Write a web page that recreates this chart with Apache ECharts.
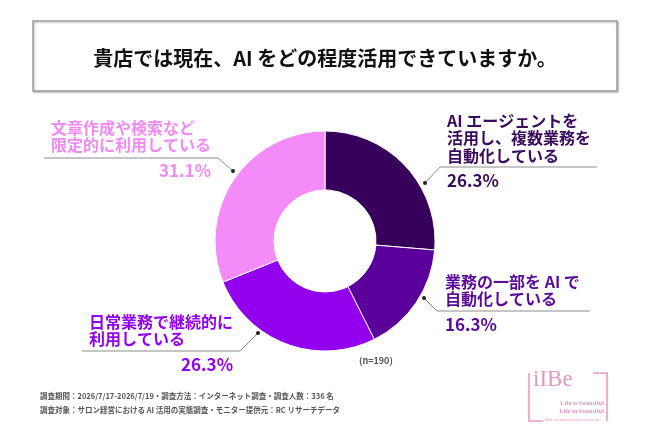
<!DOCTYPE html>
<html>
<head>
<meta charset="utf-8">
<script src="https://cdn.jsdelivr.net/npm/echarts@6/dist/echarts.min.js"></script>
<style>
    html, body {margin: 0; padding: 0; background: #fff;}
    #main {width: 650px; height: 434px;}
</style>
</head>
<body>
<div id="main"></div>
<script>
    // 回答項目と割合 (n=190)
    var categories = [
        'AI エージェントを\n活用し、複数業務を\n自動化している',
        '業務の一部を AI で\n自動化している',
        '日常業務で継続的に\n利用している',
        '文章作成や検索など\n限定的に利用している'
    ];
    var shares = [26.3, 16.3, 26.3, 31.1];
    var sliceColors = ['#37005a', '#5a009b', '#9300ee', '#f38bf9'];
    var textColors = ['#3a0a5e', '#5a0a9a', '#9300ee', '#f08af5'];

    // ラベル位置と引き出し線 (レイアウト用)
    var labelSpots = [
        {x: 447, y: 112, dot: [425, 183], knee: [440, 167], end: [597, 167]},
        {x: 445, y: 273, dot: [424, 298], knee: [437, 311], end: [590, 311]},
        {x: 89, y: 313, dot: [258, 333], knee: [240, 351], end: [82, 351]},
        {x: 51, y: 119, dot: [233, 171], knee: [218, 158], end: [44, 158]}
    ];

    var font = '"Noto Sans CJK JP", "Noto Sans", sans-serif';

    var rich = {};
    textColors.forEach(function (c, i) {
        rich['n' + i] = {color: c, fontSize: 16, fontWeight: 'bold', lineHeight: 17.5, fontFamily: font};
        rich['p' + i] = {color: c, fontSize: 17, fontWeight: 'bold', lineHeight: 32.5, fontFamily: font,
            align: labelSpots[i].x < 325 ? 'right' : 'left'};
    });

    var chart = echarts.init(document.getElementById('main'), null, {renderer: 'canvas'});

    chart.setOption({
        animation: false,
        backgroundColor: '#fff',
        title: {
            text: '貴店では現在、AI をどの程度活用できていますか。',
            left: 'center',
            top: 43,
            textStyle: {fontSize: 20, fontWeight: 'bold', color: '#111', fontFamily: font}
        },
        graphic: [
            {
                type: 'rect', z: -1,
                shape: {x: 33, y: 21, width: 584, height: 70},
                style: {fill: '#fff', stroke: '#9aa0a6', lineWidth: 1.5,
                    shadowColor: 'rgba(0,0,0,0.25)', shadowBlur: 2, shadowOffsetX: 1, shadowOffsetY: 1}
            },
            {
                type: 'text', left: 359, top: 356,
                style: {text: '(n=190)', fontSize: 9, fontWeight: 'bold', fill: '#555', fontFamily: font}
            },
            {
                type: 'text', left: 40, top: 392,
                style: {text: '調査期間：2026/7/17-2026/7/19・調査方法：インターネット調査・調査人数：336 名',
                    fontSize: 7.5, fontWeight: 'bold', fill: '#555', fontFamily: font}
            },
            {
                type: 'text', left: 40, top: 406,
                style: {text: '調査対象：サロン経営における AI 活用の実態調査・モニター提供元：RC リサーチデータ',
                    fontSize: 7.5, fontWeight: 'bold', fill: '#555', fontFamily: font}
            },
            // ロゴ
            {
                type: 'polyline',
                shape: {points: [[529, 373], [529, 421], [543, 421]]},
                style: {stroke: '#e596c4', lineWidth: 1.5, fill: null}
            },
            {
                type: 'polyline',
                shape: {points: [[593, 373], [607, 373], [607, 421]]},
                style: {stroke: '#e596c4', lineWidth: 1.5, fill: null}
            },
            {
                type: 'text', left: 533, top: 368,
                style: {text: 'iIBe', fontSize: 23, fill: '#e596c4', fontFamily: '"Liberation Serif", serif'}
            },
            {
                type: 'text', right: 46, top: 400,
                style: {text: 'Life is beautiful', fontSize: 6.5, fontWeight: 'bold', fill: '#e596c4',
                    fontFamily: '"Liberation Serif", serif'}
            },
            {
                type: 'text', right: 46, top: 408,
                style: {text: 'Life in beautiful', fontSize: 6.5, fontWeight: 'bold', fill: '#e596c4',
                    fontFamily: '"Liberation Serif", serif'}
            },
            {
                type: 'text', left: 545, top: 418.5,
                style: {text: 'Make a beautiful moment on your life!', fontSize: 3.6, fill: '#e596c4',
                    fontFamily: '"Liberation Serif", serif'}
            }
        ].concat(labelSpots.map(function (s) {
            return {
                type: 'circle', z: 10,
                shape: {cx: s.dot[0], cy: s.dot[1], r: 2},
                style: {fill: '#222'}
            };
        })),
        series: [{
            type: 'pie',
            center: [325, 241],
            radius: [51, 110],
            startAngle: 90,
            clockwise: true,
            avoidLabelOverlap: false,
            itemStyle: {borderColor: '#fff', borderWidth: 1},
            emphasis: {disabled: true},
            label: {
                show: true,
                position: 'outside',
                rich: rich,
                formatter: function (p) {
                    var i = p.dataIndex;
                    var lines = p.name.split('\n').map(function (t) {
                        return '{n' + i + '|' + t + '}';
                    });
                    lines.push('{p' + i + '|' + p.value.toFixed(1) + '%}');
                    return lines.join('\n');
                }
            },
            labelLine: {
                show: true,
                lineStyle: {color: '#8c8c8c', width: 1}
            },
            labelLayout: function (params) {
                var s = labelSpots[params.dataIndex];
                return {
                    x: s.x,
                    y: s.y,
                    align: 'left',
                    verticalAlign: 'top',
                    labelLinePoints: [s.dot, s.knee, s.end]
                };
            },
            data: categories.map(function (name, i) {
                return {name: name, value: shares[i], itemStyle: {color: sliceColors[i]}};
            })
        }]
    });
</script>
</body>
</html>
